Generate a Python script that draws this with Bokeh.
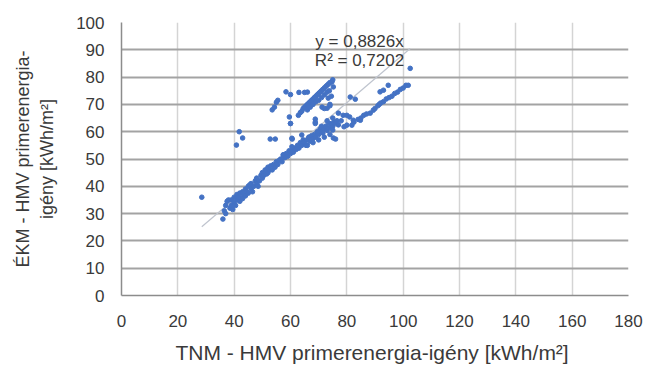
from bokeh.plotting import figure
from bokeh.models import ColumnDataSource, Label, FixedTicker, Range1d
from bokeh.embed import file_html
from bokeh.resources import INLINE

# TNM (x) vs EKM (y) primary energy demand for DHW [kWh/m2]
tnm = [
    # lower band
    36, 36.5, 37, 37, 37.5, 38, 38.5, 39, 39, 39.5, 40, 40, 40.5, 41, 41, 41.5, 42, 42, 42.5,
    43, 43, 43.5, 44, 44, 44.5, 45, 45, 45.5, 46, 46, 46.5, 47, 47.5, 48, 48, 48.5, 49, 49.5,
    50, 50, 50.5, 51, 51.5, 52, 52, 52.5, 53, 53.5, 54, 54.5, 55, 55.5, 56, 56.5, 57, 57.5,
    58, 58.5, 59, 59.5, 60, 60.5, 61, 61.5, 62, 62.5, 63, 63.5, 64, 64.5, 65, 65.5, 66, 66.5,
    67, 67.5, 68, 68.5, 69, 69.5, 70, 70.5, 71, 71.5, 72, 72.5, 73, 73.5, 74, 74.5, 75, 75.5,
    76, 76.5, 77, 78, 79, 80, 81.8, 82.5, 84, 85, 86, 87, 88.3, 89.4, 90, 91, 91.5, 92, 93,
    94, 95, 96, 97, 98, 99, 100, 101, 101.8, 102.5, 91.8, 93, 94.7,
    # extra points in the thick part of the band
    66, 68, 70, 72, 74, 71, 73, 75, 57.4, 64, 76, 75, 75.2,
    # isolated low / scattered
    28.5, 41.8, 43, 40.8, 52.8, 54.6, 60.6, 60, 60.5, 60.5, 60, 68.8, 68.8, 68.8,
    # middle group
    77, 78.7, 80, 81, 82.3, 84.8, 81.2, 83,
    # upper band
    53.5, 54.3, 55, 55.5, 58.4, 60, 63, 65, 66, 59.6, 60,
    62.8, 63.5, 64, 64.5, 65, 65.5, 66, 66.5, 67, 67.5, 68, 68.5, 69, 69.5, 70, 70.5, 71,
    71.5, 72, 72.5, 73, 73.5, 74, 74.7, 75, 75.2,
    66, 67, 68, 69, 70, 71, 72, 73,
    73.4, 73, 74, 74.5, 73.8, 71.2, 72, 74,
]
ekm = [
    # lower band
    28, 31, 33, 30, 34.5, 35, 32, 33, 35, 31.5, 34, 36, 33, 35, 37, 36, 34.5, 37.5, 36,
    38, 35.5, 37, 39, 36.5, 38, 40, 37.5, 40.5, 39, 41, 38, 40, 42, 41, 43, 40, 42, 44,
    43, 45, 44, 46, 44.5, 45, 47, 46, 47.5, 46, 48, 47, 49, 48, 49.5, 50, 49, 51.5,
    50.5, 52, 51, 53, 52, 53, 52.5, 54, 53.5, 55, 54, 56, 55, 57, 56, 55, 57, 58,
    56.5, 58.5, 57.5, 59, 58, 60, 59, 61, 60, 59.5, 61, 62, 60.5, 63, 61.5, 63, 62, 63.5,
    63, 64, 62.5, 64, 61.8, 62.4, 62.4, 63.5, 64.5, 65, 66, 66.5, 66.8, 67.9, 68.5, 69.5, 70, 70.5, 71,
    72, 72.5, 73, 74, 74.5, 75.5, 76, 77, 77, 83.2, 74.6, 75.2, 77,
    # extra points in the thick part of the band
    55, 56, 57, 58, 59, 62, 64, 65, 51.5, 58.8, 57.3, 60.6, 57.7,
    # isolated low / scattered
    36, 60, 57.7, 55.1, 57.3, 57.3, 57.3, 63, 57.6, 54.5, 52.7, 63, 64.6, 63.5,
    # middle group
    66.8, 66, 66, 65.4, 64.2, 64.2, 72.7, 71.9,
    # upper band
    68, 69, 70.8, 71.5, 74.6, 73.6, 74.4, 74.4, 74.5, 65.4, 63,
    66, 67, 67.5, 68.5, 69, 69.5, 70, 70.5, 71, 71.5, 72, 72.5, 73, 73.5, 74, 74.5, 75,
    75.5, 76, 76.5, 77, 77.5, 78, 78.2, 79, 76.4,
    68, 69, 70, 71, 71.5, 72.5, 73.5, 74.5,
    72.3, 68.6, 70, 73, 75, 69, 68.5, 69.5,
]

slope = 0.8826
r2 = 0.7202
eq_text = "y = 0,8826x"
r2_text = "R\u00b2 = 0,7202"

x_ticks = [0, 20, 40, 60, 80, 100, 120, 140, 160, 180]
y_ticks = [0, 10, 20, 30, 40, 50, 60, 70, 80, 90, 100]

FONT = "Liberation Sans"
TXT = "#3a3a3a"

p = figure(width=649, height=366, output_backend="svg", toolbar_location=None,
           x_range=Range1d(0, 180), y_range=Range1d(0, 100),
           min_border_left=121, min_border_right=21, min_border_top=22, min_border_bottom=70)
p.background_fill_color = "white"
p.border_fill_color = "white"
p.outline_line_color = None

# trendline
tx = [min(tnm), max(tnm)]
ty = [slope * v for v in tx]
p.line(tx, ty, line_color="#bfc4ce", line_width=1.2)

src = ColumnDataSource(dict(x=tnm, y=ekm))
p.scatter("x", "y", source=src, size=4.6, fill_color="#4472c4", line_color="#4472c4")

p.xaxis.ticker = FixedTicker(ticks=x_ticks)
p.yaxis.ticker = FixedTicker(ticks=y_ticks)
p.xgrid.grid_line_color = "#d4d4d4"
p.xgrid.grid_line_width = 1.5
p.ygrid.grid_line_color = "#a3a3a3"
p.ygrid.grid_line_width = 2

for ax in (p.xaxis, p.yaxis):
    ax.major_tick_line_color = None
    ax.minor_tick_line_color = None
    ax.axis_line_color = "#8c8c8c"
    ax.axis_line_width = 1.5
    ax.major_label_text_font = FONT
    ax.major_label_text_font_size = "17px"
    ax.major_label_text_color = TXT
    ax.axis_label_text_font = FONT
    ax.axis_label_text_font_style = "normal"
    ax.axis_label_text_color = TXT

p.xaxis.axis_label_text_font_size = "21px"
p.yaxis.axis_label_text_font_size = "18px"
p.xaxis.major_label_standoff = 13
p.yaxis.major_label_standoff = 11
p.xaxis.axis_label = "TNM - HMV primerenergia-igény  [kWh/m\u00b2]"
p.yaxis.axis_label = "ÉKM - HMV primerenergia-\nigény [kWh/m\u00b2]"
p.xaxis.axis_label_standoff = 11
p.yaxis.axis_label_standoff = 16

p.add_layout(Label(x=84.5, y=93.0, text=eq_text, text_align="center", text_baseline="middle",
                   text_font=FONT, text_font_size="17px", text_color=TXT))
p.add_layout(Label(x=84.5, y=86.0, text=r2_text, text_align="center", text_baseline="middle",
                   text_font=FONT, text_font_size="17px", text_color=TXT))

open("out.html", "w").write(file_html(p, INLINE))
